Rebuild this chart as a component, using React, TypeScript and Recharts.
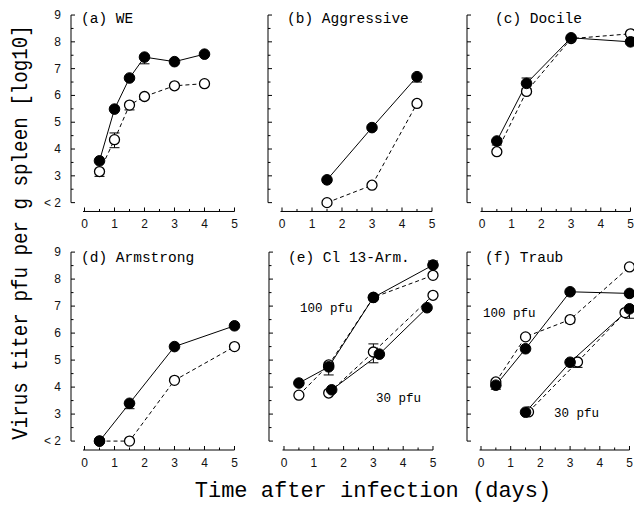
import React from 'react';
import { LineChart, Line, XAxis, YAxis, ReferenceLine, ErrorBar } from 'recharts';

// ---------------- data (days after infection, log10 pfu per g spleen) ----------------
// (a) WE
const weDays = [0.5, 1, 1.5, 2, 3, 4];
const weFilled = [3.56, 5.49, 6.65, 7.43, 7.26, 7.54];
const weFilledErr = [null, null, null, [0.25, 0], null, null];
const weOpen = [3.16, 4.35, 5.64, 5.96, 6.36, 6.44];
const weOpenErr = [[0.18, 0], [0.3, 0.25], [0.18, 0], null, null, null];

// (b) Aggressive
const aggDays = [1.5, 3, 4.5];
const aggFilled = [2.85, 4.8, 6.7];
const aggFilledErr = [null, null, [0.2, 0]];
const aggOpen = [2.0, 2.65, 5.7];

// (c) Docile
const docDays = [0.5, 1.5, 3, 5];
const docFilled = [4.3, 6.45, 8.15, 8.0];
const docFilledErr = [[0.15, 0], [0.2, 0.2], null, null];
const docOpen = [3.9, 6.15, 8.12, 8.3];

// (d) Armstrong
const armDays = [0.5, 1.5, 3, 5];
const armFilled = [2.0, 3.4, 5.5, 6.27];
const armFilledErr = [null, [0.2, 0], null, null];
const armOpen = [2.0, 2.0, 4.25, 5.5];

// (e) Cl 13-Arm.
const cl100Days = [0.5, 1.5, 3, 5];
const cl100Filled = [4.15, 4.75, 7.32, 8.52];
const cl100FilledErr = [null, [0.3, 0], null, [0, 0.15]];
const cl100Open = [3.7, 4.82, 7.32, 8.14];
const cl30FilledDays = [1.6, 3.2, 4.8];
const cl30Filled = [3.9, 5.22, 6.94];
const cl30OpenDays = [1.5, 3.0, 5.0];
const cl30Open = [3.78, 5.3, 7.4];
const cl30OpenErr = [null, [0.4, 0.3], null];

// (f) Traub
const tr100Days = [0.5, 1.5, 3, 5];
const tr100Filled = [4.07, 5.42, 7.53, 7.47];
const tr100FilledErr = [[0.15, 0], null, null, null];
const tr100Open = [4.19, 5.86, 6.5, 8.45];
const tr100OpenErr = [null, null, [0.12, 0], null];
const tr30FilledDays = [1.5, 3.0, 5.0];
const tr30Filled = [3.07, 4.92, 6.9];
const tr30FilledErr = [null, null, [0.35, 0]];
const tr30OpenDays = [1.6, 3.25, 4.85];
const tr30Open = [3.08, 4.93, 6.76];
const tr30OpenErr = [null, [0.2, 0], null];

const xTickValues = [0, 0.5, 1, 1.5, 2, 2.5, 3, 3.5, 4, 4.5, 5];
const yTickValues = [2, 2.5, 3, 3.5, 4, 4.5, 5, 5.5, 6, 6.5, 7, 7.5, 8, 8.5, 9];

// ---------------- helpers ----------------
type Pt = { x: number; y: number; e?: number[] };
const zip = (xs: number[], ys: number[], errs?: (number[] | null)[]): Pt[] =>
  xs.map((x, i) => {
    const d: Pt = { x, y: ys[i] };
    if (errs && errs[i]) d.e = errs[i] as number[];
    return d;
  });

type Series = { data: Pt[]; open: boolean; err: boolean };
const S = (xs: number[], ys: number[], open: boolean, errs?: (number[] | null)[]): Series => ({
  data: zip(xs, ys, errs),
  open,
  err: !!errs,
});

const YW = 40, MT = 4, MR = 12, XH = 26;
const X_MAX = 5.2, Y_MIN = 1.67, Y_MAX = 9.3;

type Cfg = {
  key: string;
  plotLeft: number;
  x0: number;
  ux: number;
  Y9: number;
  uy: number;
  labels: boolean;
  series: Series[];
};

const ROW1 = { Y9: 15.3, uy: 26.8 };
const ROW2 = { Y9: 252.5, uy: 27 };

const panels: Cfg[] = [
  {
    key: 'a', plotLeft: 71, x0: 84.5, ux: 30, ...ROW1, labels: true,
    series: [S(weDays, weOpen, true, weOpenErr), S(weDays, weFilled, false, weFilledErr)],
  },
  {
    key: 'b', plotLeft: 268, x0: 282, ux: 30, ...ROW1, labels: false,
    series: [S(aggDays, aggOpen, true), S(aggDays, aggFilled, false, aggFilledErr)],
  },
  {
    key: 'c', plotLeft: 467, x0: 482, ux: 29.7, ...ROW1, labels: false,
    series: [S(docDays, docOpen, true), S(docDays, docFilled, false, docFilledErr)],
  },
  {
    key: 'd', plotLeft: 71, x0: 84.5, ux: 30, ...ROW2, labels: true,
    series: [S(armDays, armOpen, true), S(armDays, armFilled, false, armFilledErr)],
  },
  {
    key: 'e', plotLeft: 269, x0: 284, ux: 29.8, ...ROW2, labels: false,
    series: [
      S(cl100Days, cl100Open, true),
      S(cl30OpenDays, cl30Open, true, cl30OpenErr),
      S(cl100Days, cl100Filled, false, cl100FilledErr),
      S(cl30FilledDays, cl30Filled, false),
    ],
  },
  {
    key: 'f', plotLeft: 467, x0: 481, ux: 29.7, ...ROW2, labels: false,
    series: [
      S(tr100Days, tr100Open, true, tr100OpenErr),
      S(tr30OpenDays, tr30Open, true, tr30OpenErr),
      S(tr100Days, tr100Filled, false, tr100FilledErr),
      S(tr30FilledDays, tr30Filled, false, tr30FilledErr),
    ],
  },
];

const TICK_FONT = 'Liberation Sans, Arial, sans-serif';
const MONO = 'Liberation Mono, DejaVu Sans Mono, monospace';

const XTick = (props: any) => {
  const { x, y, payload } = props;
  const v = payload.value as number;
  const major = Number.isInteger(v);
  return (
    <g>
      <line x1={x} x2={x} y1={y} y2={y - (major ? 4 : 2.5)} stroke="#000" strokeWidth={1} />
      {major && (
        <text x={x} y={y + 17} textAnchor="middle" fontSize={12} fontFamily={TICK_FONT} fill="#111">
          {v}
        </text>
      )}
    </g>
  );
};

const makeYTick = (showLabel: boolean) => (props: any) => {
  const { x, y, payload } = props;
  const v = payload.value as number;
  const major = Number.isInteger(v);
  return (
    <g>
      <line x1={x} x2={x + (major ? 4 : 2.5)} y1={y} y2={y} stroke="#000" strokeWidth={1} />
      {showLabel && major && (
        <text x={x - 10} y={y + 4} textAnchor="end" fontSize={12} fontFamily={TICK_FONT} fill="#111">
          {v === 2 ? '< 2' : v}
        </text>
      )}
    </g>
  );
};

function Panel({ cfg }: { cfg: Cfg }) {
  const { plotLeft, x0, ux, Y9, uy, series, labels } = cfg;
  const xmin = (plotLeft - x0) / ux;
  const plotW = (X_MAX - xmin) * ux;
  const plotTop = Y9 - (Y_MAX - 9) * uy;
  const plotH = (Y_MAX - Y_MIN) * uy;
  const W = YW + plotW + MR;
  const H = MT + plotH + XH;
  return (
    <div style={{ position: 'absolute', left: plotLeft - YW, top: plotTop - MT, width: W, height: H }}>
      <LineChart width={W} height={H} margin={{ top: MT, right: MR, left: 0, bottom: 0 }}>
        <XAxis
          type="number"
          dataKey="x"
          domain={[xmin, X_MAX]}
          ticks={xTickValues}
          interval={0}
          axisLine={false}
          tickLine={false}
          tickSize={0}
          tickMargin={0}
          height={XH}
          tick={XTick}
        />
        <YAxis
          type="number"
          domain={[Y_MIN, Y_MAX]}
          ticks={yTickValues}
          interval={0}
          axisLine={false}
          tickLine={false}
          tickSize={0}
          tickMargin={0}
          width={YW}
          tick={makeYTick(labels)}
        />
        <ReferenceLine
          segment={[{ x: xmin, y: 2 }, { x: xmin, y: 9 }]}
          stroke="#000"
          strokeWidth={1}
          ifOverflow="visible"
        />
        <ReferenceLine
          segment={[{ x: -0.05, y: Y_MIN }, { x: 5, y: Y_MIN }]}
          stroke="#000"
          strokeWidth={1}
          ifOverflow="visible"
        />
        {series.map((s, i) => (
          <Line
            key={i}
            data={s.data}
            dataKey="y"
            type="linear"
            stroke="#000"
            strokeWidth={1}
            strokeDasharray={s.open ? '4 3' : undefined}
            dot={
              s.open
                ? { r: 5, fill: '#fff', stroke: '#000', strokeWidth: 1.3, strokeDasharray: '' }
                : { r: 5.3, fill: '#000', stroke: '#000', strokeWidth: 1 }
            }
            activeDot={false}
            isAnimationActive={false}
            legendType="none"
          >
            {s.err && <ErrorBar dataKey="e" width={5} stroke="#000" strokeWidth={1} direction="y" />}
          </Line>
        ))}
      </LineChart>
    </div>
  );
}

export default function App() {
  return (
    <div
      style={{
        position: 'absolute',
        left: 0,
        top: 0,
        width: 634,
        height: 505,
        background: '#fff',
        overflow: 'hidden',
      }}
    >
      {panels.map((p) => (
        <Panel key={p.key} cfg={p} />
      ))}
      <svg
        width={634}
        height={505}
        style={{ position: 'absolute', left: 0, top: 0, pointerEvents: 'none' }}
      >
        <g fontFamily={MONO} fontSize={14.5} fill="#000">
          <text x={81} y={23}>(a) WE</text>
          <text x={287} y={23}>(b) Aggressive</text>
          <text x={495} y={23}>(c) Docile</text>
          <text x={81} y={262}>(d) Armstrong</text>
          <text x={288} y={262}>(e) Cl 13-Arm.</text>
          <text x={485} y={262}>(f) Traub</text>
        </g>
        <g fontFamily={MONO} fontSize={12.5} fill="#000">
          <text x={300} y={312}>100 pfu</text>
          <text x={376} y={402}>30 pfu</text>
          <text x={483} y={317}>100 pfu</text>
          <text x={554} y={417}>30 pfu</text>
        </g>
        <text
          x={373}
          y={497}
          textAnchor="middle"
          fontFamily={MONO}
          fontSize={22}
          fill="#000"
        >
          Time after infection (days)
        </text>
        <text
          x={0}
          y={0}
          transform="translate(27,232.5) rotate(-90) scale(1,1.14)"
          textAnchor="middle"
          fontFamily={MONO}
          fontSize={19.2}
          fill="#000"
        >
          Virus titer pfu per g spleen [log10]
        </text>
      </svg>
    </div>
  );
}
